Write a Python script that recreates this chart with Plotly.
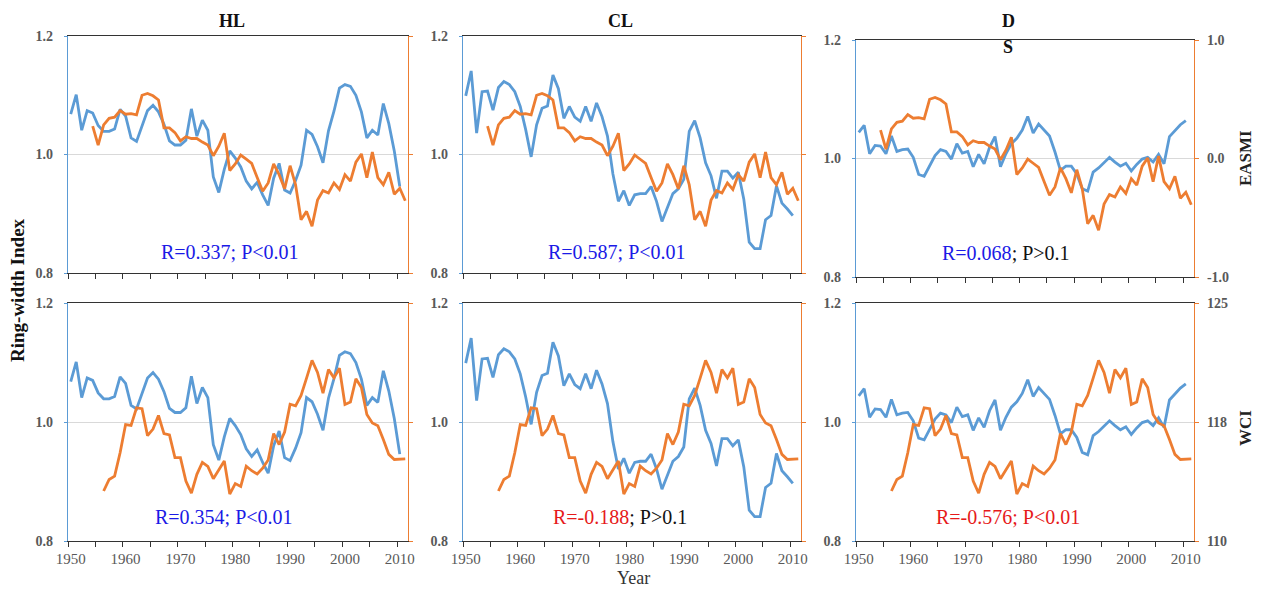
import plotly.graph_objects as go

years_rw = list(range(1950, 2011))
hl = [1.068, 1.101, 1.041, 1.074, 1.070, 1.049, 1.039, 1.039, 1.043, 1.076,
      1.065, 1.028, 1.022, 1.048, 1.074, 1.083, 1.072, 1.051, 1.023, 1.016,
      1.016, 1.024, 1.077, 1.031, 1.058, 1.041, 0.962, 0.936, 0.975, 1.006,
      0.994, 0.979, 0.955, 0.942, 0.953, 0.932, 0.914, 0.960, 0.985, 0.940,
      0.935, 0.956, 0.982, 1.041, 1.034, 1.013, 0.986, 1.040, 1.073, 1.112,
      1.118, 1.115, 1.100, 1.072, 1.028, 1.041, 1.033, 1.086, 1.052, 1.006,
      0.946]
cl = [1.099, 1.141, 1.036, 1.106, 1.107, 1.075, 1.113, 1.123, 1.118, 1.106,
      1.081, 1.042, 0.996, 1.050, 1.078, 1.082, 1.134, 1.111, 1.061, 1.081,
      1.063, 1.056, 1.081, 1.056, 1.087, 1.064, 1.031, 0.967, 0.921, 0.939,
      0.914, 0.932, 0.934, 0.934, 0.946, 0.921, 0.887, 0.911, 0.934, 0.942,
      0.958, 1.039, 1.057, 1.028, 0.986, 0.964, 0.926, 0.972, 0.972, 0.960,
      0.970, 0.925, 0.852, 0.841, 0.841, 0.890, 0.897, 0.947, 0.918, 0.908,
      0.897]
ds = [1.044, 1.056, 1.008, 1.022, 1.021, 1.008, 1.038, 1.012, 1.015, 1.016,
      1.002, 0.973, 0.970, 0.988, 1.005, 1.015, 1.012, 0.999, 1.025, 1.009,
      1.012, 0.986, 1.007, 0.991, 1.019, 1.037, 0.986, 1.008, 1.025, 1.034,
      1.048, 1.071, 1.043, 1.058, 1.048, 1.038, 1.011, 0.980, 0.987, 0.987,
      0.974, 0.949, 0.945, 0.977, 0.984, 0.993, 1.002, 0.994, 0.987, 0.992,
      0.979, 0.990, 0.999, 1.002, 0.994, 1.007, 0.991, 1.037, 1.047, 1.057,
      1.064]

years_easmi = list(range(1954, 2012))
easmi = [0.24, 0.08, 0.25, 0.305, 0.315, 0.37, 0.34, 0.345, 0.335, 0.50,
         0.515, 0.495, 0.46, 0.225, 0.225, 0.185, 0.115, 0.15, 0.135, 0.135,
         0.105, 0.08, -0.01, 0.07, 0.18, -0.135, -0.08, -0.005, -0.04, -0.075,
         -0.195, -0.31, -0.24, -0.08, -0.17, -0.29, -0.095, -0.255, -0.55, -0.48,
         -0.605, -0.385, -0.305, -0.325, -0.24, -0.295, -0.17, -0.225, -0.065, 0.005,
         -0.195, 0.02, -0.195, -0.255, -0.15, -0.335, -0.285, -0.39]

years_wci = list(range(1956, 2012))
wci = [113.15, 113.88, 114.09, 115.56, 117.34, 117.28, 118.39, 118.34, 116.64, 117.05,
       117.91, 116.77, 116.69, 115.25, 115.25, 113.78, 113.02, 114.2, 114.96, 114.7,
       113.93, 114.46, 115.04, 112.96, 113.62, 113.44, 114.72, 114.43, 114.22, 114.59,
       115.11, 116.77, 116.08, 116.87, 118.62, 118.52, 119.18, 120.27, 121.38, 120.62,
       119.32, 120.8, 120.28, 120.89, 118.6, 118.76, 120.22, 119.68, 117.97, 117.44,
       117.27, 116.4, 115.46, 115.14, 115.16, 115.18]

rw_series = [hl, cl, ds]
stats_top = ['<span style="color:#1a1ae6">R=0.337; P&lt;0.01</span>',
             '<span style="color:#1a1ae6">R=0.587; P&lt;0.01</span>',
             '<span style="color:#1a1ae6">R=0.068</span><span style="color:#111">; P&gt;0.1</span>']
stats_bot = ['<span style="color:#1a1ae6">R=0.354; P&lt;0.01</span>',
             '<span style="color:#e61a1a">R=-0.188</span><span style="color:#111">; P&gt;0.1</span>',
             '<span style="color:#e61a1a">R=-0.576; P&lt;0.01</span>']
x_labels = [1950, 1960, 1970, 1980, 1990, 2000, 2010]

BLUE = "#5B9BD5"
ORANGE = "#ED7D31"
SERIF = "Liberation Serif, Times New Roman, serif"
GRAY = "#595959"
# the page body adds an 8px offset; figure coordinates = target pixel - 8
OFF = 8
W, H = 1263 - OFF, 589 - OFF

col_px = [(68, 408), (463, 801), (856, 1194)]
row_px = {0: [(36, 273), (36, 273), (40, 277)], 1: [(303, 541), (303, 541), (303, 541)]}
stat_pos = {0: [(230, 252), (617, 252), (1006, 253)], 1: [(224, 517), (620, 517), (1008, 517)]}

def fx(px):
    return (px - OFF) / W

def fy(py):
    return 1 - (py - OFF) / H

fig = go.Figure()
layout = dict(width=W, height=H, margin=dict(l=0, r=0, t=0, b=0, pad=0, autoexpand=False),
              paper_bgcolor="white", plot_bgcolor="white", showlegend=False)
annotations = []

minor_ticks = [1949.5 + 5 * k for k in range(13)]

for r in range(2):
    for c in range(3):
        p = r * 3 + c + 1
        xname = "x" if p == 1 else f"x{p}"
        yl = 2 * p - 1
        yr = 2 * p
        yl_name = "y" if yl == 1 else f"y{yl}"
        yr_name = f"y{yr}"
        x0, x1 = col_px[c]
        ytop, ybot = row_px[r][c]
        xd = [fx(x0), fx(x1)]
        yd = [fy(ybot), fy(ytop)]

        fig.add_trace(go.Scatter(x=years_rw, y=rw_series[c], mode="lines",
                                 line=dict(color=BLUE, width=2.8),
                                 xaxis=xname, yaxis=yl_name))
        if r == 0:
            fig.add_trace(go.Scatter(x=years_easmi, y=easmi, mode="lines",
                                     line=dict(color=ORANGE, width=2.8),
                                     xaxis=xname, yaxis=yr_name))
        else:
            fig.add_trace(go.Scatter(x=years_wci, y=wci, mode="lines",
                                     line=dict(color=ORANGE, width=2.8),
                                     xaxis=xname, yaxis=yr_name))

        xkey = "xaxis" if p == 1 else f"xaxis{p}"
        layout[xkey] = dict(
            domain=xd, anchor=yl_name, range=[1949.5, 2011.5], automargin=False,
            tickvals=x_labels, ticktext=[str(v) for v in x_labels],
            showticklabels=(r == 1), ticks="", ticklabelstandoff=4,
            tickfont=dict(family=SERIF, size=15, color=GRAY),
            showline=True, linecolor="#333333", linewidth=1.2, mirror=True,
            showgrid=False, zeroline=False,
            minor=dict(tickvals=minor_ticks, ticks="outside", ticklen=5,
                       tickcolor="#333333", tickwidth=1, showgrid=False),
        )
        ylkey = "yaxis" if yl == 1 else f"yaxis{yl}"
        layout[ylkey] = dict(
            domain=yd, anchor=xname, range=[0.8, 1.2], automargin=False,
            tickvals=[0.8, 1.0, 1.2], ticktext=["<b>0.8</b>", "<b>1.0</b>", "<b>1.2</b>"],
            tickfont=dict(family=SERIF, size=14, color=GRAY),
            ticks="outside", ticklen=3, tickcolor=BLUE, ticklabelstandoff=8,
            showline=True, linecolor=BLUE, linewidth=1.2,
            showgrid=True, gridcolor="#D9D9D9", gridwidth=1, zeroline=False,
        )
        yrkey = f"yaxis{yr}"
        if r == 0:
            rng = [-1, 1]
            tv = [-1, 0, 1]
            tt = ["<b>-1.0</b>", "<b>0.0</b>", "<b>1.0</b>"]
        else:
            rng = [110, 125]
            tv = [110, 117.5, 125]
            tt = ["<b>110</b>", "<b>118</b>", "<b>125</b>"]
        layout[yrkey] = dict(
            domain=yd, anchor=xname, overlaying=yl_name, side="right", range=rng,
            automargin=False,
            tickvals=tv, ticktext=tt, showticklabels=(c == 2),
            tickfont=dict(family=SERIF, size=14, color=GRAY),
            ticks="outside", ticklen=4, tickcolor=ORANGE, ticklabelstandoff=5,
            showline=True, linecolor=ORANGE, linewidth=1.2,
            showgrid=False, zeroline=False,
        )

        sx, sy = stat_pos[r][c]
        stats = stats_top[c] if r == 0 else stats_bot[c]
        annotations.append(dict(text=stats, x=fx(sx), y=fy(sy), xref="paper", yref="paper",
                                showarrow=False, xanchor="center", yanchor="middle",
                                font=dict(family=SERIF, size=20)))

def label(text, px, py, size, color="#111", angle=0):
    annotations.append(dict(text=text, x=fx(px), y=fy(py), xref="paper", yref="paper",
                            showarrow=False, textangle=angle, xanchor="center", yanchor="middle",
                            font=dict(family=SERIF, size=size, color=color)))

label("<b>HL</b>", 232, 21, 18)
label("<b>CL</b>", 620, 21, 18)
label("<b>D</b>", 1008, 21, 18)
label("<b>S</b>", 1008, 47, 18)
label("<b>Ring-width Index</b>", 18, 290, 19, angle=-90)
label("<b>EASMI</b>", 1245, 158, 17, color="#222", angle=-90)
label("<b>WCI</b>", 1245, 428, 17, color="#222", angle=-90)
label("Year", 633, 578, 18, color="#333")

layout["annotations"] = annotations
fig.update_layout(**layout)
fig.write_html("out.html")
